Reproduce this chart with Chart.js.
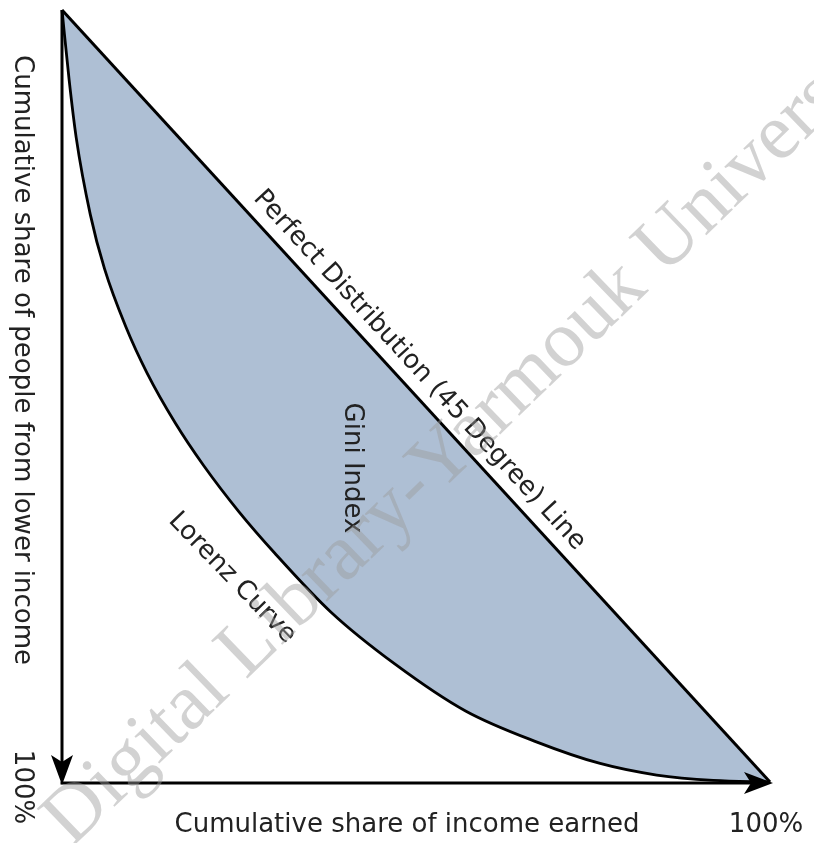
<!DOCTYPE html>
<html>
<head>
<meta charset="utf-8">
<script src="https://cdn.jsdelivr.net/npm/chart.js@4/dist/chart.umd.min.js"></script>
<style>
  html, body { margin: 0; padding: 0; background: #fff; }
  canvas { display: block; }
</style>
</head>
<body>
<canvas id="lorenz-chart" width="814" height="843"></canvas>
<script>
// Cumulative shares in percent (x = income earned, y = people from lower income)
const equalityIncome = [0, 100];
const equalityPeople = [0, 100];
const lorenzIncome = [0, 1, 2, 4, 6, 9, 12, 16, 20, 25, 30, 38, 47, 57, 67, 76, 84, 92, 100];
const lorenzPeople = [0, 9, 16.5, 26.5, 33.5, 41, 47, 53.5, 59, 65, 70.3, 78, 84.7, 90.8, 94.8, 97.6, 99.1, 99.8, 100];

const axisTitleX = 'Cumulative share of income earned';
const axisTitleY = 'Cumulative share of people from lower income';
const axisEndLabel = '100%';
const equalityLabel = 'Perfect Distribution (45 Degree) Line';
const lorenzLabel = 'Lorenz Curve';
const areaLabel = 'Gini Index';
const watermark = 'Digital Library-Yarmouk University';

const toPoints = (xs, ys) => xs.map((x, i) => ({ x: x, y: ys[i] }));

// Axes with arrows + the text labels around the curves
const annotations = {
    id: 'annotations',
    afterDatasetsDraw(chart) {
        const ctx = chart.ctx;
        const area = chart.chartArea;
        const xScale = chart.scales.x;
        const yScale = chart.scales.y;
        const L = area.left, B = area.bottom + 1, R = area.right;

        ctx.save();
        ctx.strokeStyle = '#000';
        ctx.fillStyle = '#000';
        ctx.lineWidth = 3;
        ctx.beginPath();
        ctx.moveTo(L, area.top);
        ctx.lineTo(L, B - 18);
        ctx.moveTo(L - 1.5, B);
        ctx.lineTo(R - 16, B);
        ctx.stroke();

        // arrow heads
        ctx.beginPath();
        ctx.moveTo(L, B + 2);
        ctx.lineTo(L - 11, B - 28);
        ctx.lineTo(L, B - 21);
        ctx.lineTo(L + 11, B - 28);
        ctx.closePath();
        ctx.fill();
        ctx.beginPath();
        ctx.moveTo(R + 3, B);
        ctx.lineTo(R - 26, B - 11);
        ctx.lineTo(R - 19, B);
        ctx.lineTo(R - 26, B + 11);
        ctx.closePath();
        ctx.fill();

        ctx.fillStyle = '#222';
        ctx.font = '26px "DejaVu Sans"';

        // x axis title + end label
        ctx.textAlign = 'center';
        ctx.textBaseline = 'alphabetic';
        ctx.fillText(axisTitleX, 407, 832);
        ctx.fillText(axisEndLabel, 766, 832);

        // y axis title (reads downwards)
        ctx.save();
        ctx.translate(22, 55);
        ctx.rotate(Math.PI / 2);
        ctx.textAlign = 'left';
        ctx.textBaseline = 'middle';
        ctx.fillText(axisTitleY, 0, 0);
        ctx.restore();

        ctx.save();
        ctx.translate(22, 787);
        ctx.rotate(Math.PI / 2);
        ctx.textAlign = 'center';
        ctx.textBaseline = 'middle';
        ctx.fillText(axisEndLabel, 0, 0);
        ctx.restore();

        // Gini Index
        ctx.save();
        ctx.translate(352, 468);
        ctx.rotate(Math.PI / 2);
        ctx.textAlign = 'center';
        ctx.textBaseline = 'middle';
        ctx.fillText(areaLabel, 0, 0);
        ctx.restore();

        // label along the 45 degree line
        const angle = Math.atan2(area.height, area.width);
        ctx.save();
        ctx.translate(xScale.getPixelForValue(48.4), yScale.getPixelForValue(48.4));
        ctx.rotate(angle);
        ctx.textAlign = 'center';
        ctx.textBaseline = 'alphabetic';
        ctx.fillText(equalityLabel, 0, -13);
        ctx.restore();

        // Lorenz curve label
        ctx.save();
        ctx.translate(232, 578);
        ctx.rotate(46 * Math.PI / 180);
        ctx.textAlign = 'center';
        ctx.textBaseline = 'middle';
        ctx.fillText(lorenzLabel, 0, 0);
        ctx.restore();

        ctx.restore();
    },
    afterDraw(chart) {
        const ctx = chart.ctx;
        ctx.save();
        ctx.translate(57, 833);
        ctx.rotate(-44 * Math.PI / 180);
        ctx.font = '80px "Liberation Serif"';
        ctx.fillStyle = 'rgba(155, 155, 155, 0.45)';
        ctx.textAlign = 'left';
        ctx.textBaseline = 'middle';
        ctx.fillText(watermark, 0, 0);
        ctx.restore();
    }
};

new Chart(document.getElementById('lorenz-chart'), {
    type: 'line',
    data: {
        datasets: [{
            label: equalityLabel,
            data: toPoints(equalityIncome, equalityPeople),
            borderColor: '#000',
            borderWidth: 3,
            pointRadius: 0,
            backgroundColor: '#aebfd4',
            fill: '+1',
            clip: false
        }, {
            label: lorenzLabel,
            data: toPoints(lorenzIncome, lorenzPeople),
            borderColor: '#000',
            borderWidth: 2.8,
            pointRadius: 0,
            cubicInterpolationMode: 'monotone',
            fill: false,
            clip: false
        }]
    },
    options: {
        responsive: false,
        animation: false,
        devicePixelRatio: 1,
        layout: { padding: { left: 62, top: 10, right: 44, bottom: 61 } },
        scales: {
            x: { type: 'linear', min: 0, max: 100, display: false },
            y: { type: 'linear', min: 0, max: 100, reverse: true, display: false }
        },
        plugins: {
            legend: { display: false },
            tooltip: { enabled: false },
            filler: { drawTime: 'beforeDatasetsDraw' }
        }
    },
    plugins: [annotations]
});
</script>
</body>
</html>
